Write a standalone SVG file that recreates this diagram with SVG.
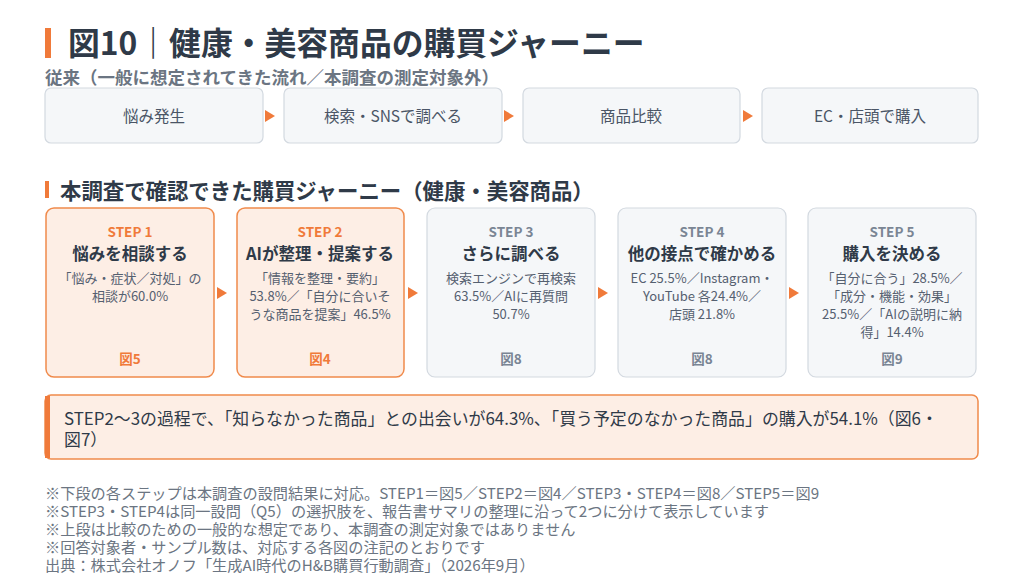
<svg xmlns="http://www.w3.org/2000/svg" width="1024" height="582" viewBox="0 0 1024 582">
<style>
text{font-family:"Noto Sans CJK JP","Noto Sans",sans-serif}
.gb{fill:#f5f7f9;stroke:#d3d9e0;stroke-width:1.2}
.ob{fill:#fdeee5;stroke:#f08a4b;stroke-width:1.5}
.top{font-size:15.5px;fill:#4a5566;text-anchor:middle}
.sl{font-size:13.5px;font-weight:bold;text-anchor:middle}
.tt{font-size:16.5px;font-weight:bold;fill:#2f3a48;text-anchor:middle}
.bd{font-size:13px;fill:#556070;text-anchor:middle}
.fg{font-size:13.5px;font-weight:bold;text-anchor:middle}
.or{fill:#f07a3a}
.gr{fill:#7a8594}
.nt{font-size:15.2px;fill:#6b7582}
</style>
<rect width="1024" height="582" fill="#fff"/>
<rect x="45" y="28" width="6" height="30" class="or"/>
<text x="68" y="55" font-size="31.8" font-weight="bold" fill="#2f3a48">図10｜健康・美容商品の購買ジャーニー</text>
<text x="45" y="84" font-size="17.5" font-weight="bold" fill="#6b7582">従来（一般に想定されてきた流れ／本調査の測定対象外）</text>
<g id="top1"><rect x="45" y="88" width="218" height="55" rx="6" class="gb"/><text x="154" y="122" class="top">悩み発生</text></g>
<g id="top2"><rect x="284" y="88" width="218" height="55" rx="6" class="gb"/><text x="393" y="122" class="top">検索・SNSで調べる</text></g>
<g id="top3"><rect x="523" y="88" width="217" height="55" rx="6" class="gb"/><text x="631" y="122" class="top">商品比較</text></g>
<g id="top4"><rect x="762" y="88" width="216" height="55" rx="6" class="gb"/><text x="870" y="122" class="top">EC・店頭で購入</text></g>
<rect x="45" y="181" width="4" height="17" class="or"/>
<text x="60" y="199" font-size="21.4" font-weight="bold" fill="#2f3a48">本調査で確認できた購買ジャーニー（健康・美容商品）</text>
<g id="s1"><rect x="46" y="208" width="168" height="169" rx="8" class="ob"/>
<text x="130" y="237" class="sl or">STEP 1</text><text x="130" y="260" class="tt">悩みを相談する</text>
<text x="130" y="283" class="bd">「悩み・症状／対処」の</text><text x="130" y="301" class="bd">相談が60.0%</text>
<text x="130" y="364" class="fg or">図5</text></g>
<g id="s2"><rect x="237" y="208" width="167" height="169" rx="8" class="ob"/>
<text x="320" y="237" class="sl or">STEP 2</text><text x="320" y="260" class="tt">AIが整理・提案する</text>
<text x="320" y="283" class="bd">「情報を整理・要約」</text><text x="320" y="301" class="bd">53.8%／「自分に合いそ</text><text x="320" y="319" class="bd">うな商品を提案」46.5%</text>
<text x="320" y="364" class="fg or">図4</text></g>
<g id="s3"><rect x="427" y="208" width="168" height="169" rx="8" class="gb"/>
<text x="511" y="237" class="sl gr">STEP 3</text><text x="511" y="260" class="tt">さらに調べる</text>
<text x="511" y="283" class="bd">検索エンジンで再検索</text><text x="511" y="301" class="bd">63.5%／AIに再質問</text><text x="511" y="319" class="bd">50.7%</text>
<text x="511" y="364" class="fg gr">図8</text></g>
<g id="s4"><rect x="618" y="208" width="168" height="169" rx="8" class="gb"/>
<text x="702" y="237" class="sl gr">STEP 4</text><text x="702" y="260" class="tt">他の接点で確かめる</text>
<text x="702" y="283" class="bd">EC 25.5%／Instagram・</text><text x="702" y="301" class="bd">YouTube 各24.4%／</text><text x="702" y="319" class="bd">店頭 21.8%</text>
<text x="702" y="364" class="fg gr">図8</text></g>
<g id="s5"><rect x="808" y="208" width="168" height="169" rx="8" class="gb"/>
<text x="892" y="237" class="sl gr">STEP 5</text><text x="892" y="260" class="tt">購入を決める</text>
<text x="892" y="283" class="bd">「自分に合う」28.5%／</text><text x="892" y="301" class="bd">「成分・機能・効果」</text><text x="892" y="319" class="bd">25.5%／「AIの説明に納</text><text x="892" y="337" class="bd">得」14.4%</text>
<text x="892" y="364" class="fg gr">図9</text></g>
<g id="connectors" class="or">
<path d="M265 110 L275 116 L265 122Z"/><path d="M504 110 L514 116 L504 122Z"/><path d="M743 110 L753 116 L743 122Z"/>
<path d="M217 287 L227 293 L217 299Z"/><path d="M408 287 L418 293 L408 299Z"/><path d="M598 287 L608 293 L598 299Z"/><path d="M789 287 L799 293 L789 299Z"/>
</g>
<g id="callout"><rect x="45" y="395" width="933" height="64" rx="6" fill="#fdeee5" stroke="#f08a4b" stroke-width="1.5"/>
<rect x="45" y="396" width="5" height="62" class="or"/>
<text x="64" y="425" font-size="16.9" fill="#2f3a48">STEP2〜3の過程で、「知らなかった商品」との出会いが64.3%、「買う予定のなかった商品」の購入が54.1%（図6・</text>
<text x="64" y="446" font-size="16.9" fill="#2f3a48">図7）</text></g>
<text x="45" y="499" class="nt">※下段の各ステップは本調査の設問結果に対応。STEP1＝図5／STEP2＝図4／STEP3・STEP4＝図8／STEP5＝図9</text>
<text x="45" y="517" class="nt">※STEP3・STEP4は同一設問（Q5）の選択肢を、報告書サマリの整理に沿って2つに分けて表示しています</text>
<text x="45" y="535" class="nt">※上段は比較のための一般的な想定であり、本調査の測定対象ではありません</text>
<text x="45" y="553" class="nt">※回答対象者・サンプル数は、対応する各図の注記のとおりです</text>
<text x="45" y="571" class="nt">出典：株式会社オノフ「生成AI時代のH&amp;B購買行動調査」（2026年9月）</text>
</svg>
